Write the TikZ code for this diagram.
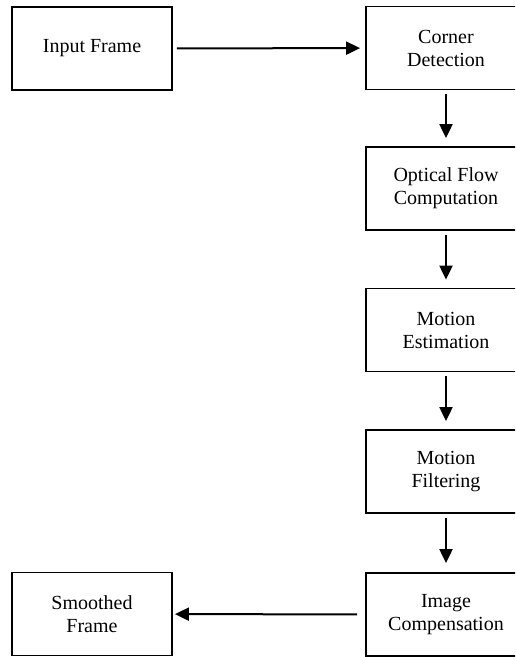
\documentclass[tikz,border=0pt]{standalone}
\usepackage{fontspec}
\setmainfont{Liberation Serif}
\usetikzlibrary{arrows.meta}
\begin{document}
\begin{tikzpicture}[x=1pt,y=-1pt,
  box/.style={draw, line width=1.8pt, minimum width=160pt, minimum height=83pt,
    align=center, inner sep=2pt, font=\fontsize{20}{23}\selectfont},
  flow/.style={line width=2pt, -{Triangle[length=14pt,width=13pt]}}]
\useasboundingbox (0,0) rectangle (515,657);
\clip (0,0) rectangle (515,657);
\fill[white] (0,0) rectangle (515,657);
\node[box] (input) at (92,48.5) {Input Frame};
\node[box] (corner) at (446,48) {Corner\\Detection};
\node[box] (optical) at (446,188.5) {Optical Flow\\Computation};
\node[box] (est) at (446,330) {Motion\\Estimation};
\node[box] (filt) at (446,471.5) {Motion\\Filtering};
\node[box] (comp) at (446,614.5) {Image\\Compensation};
\node[box] (smooth) at (92,614) {Smoothed\\Frame};
\draw[flow, shorten <=4pt, shorten >=5pt] (input) -- (corner);
\draw[flow, shorten <=4pt, shorten >=8pt] (corner) -- (optical);
\draw[flow, shorten <=4pt, shorten >=8pt] (optical) -- (est);
\draw[flow, shorten <=4pt, shorten >=8pt] (est) -- (filt);
\draw[flow, shorten <=4pt, shorten >=9pt] (filt) -- (comp);
\draw[flow, shorten <=8pt, shorten >=2pt] (comp) -- (smooth);
\end{tikzpicture}
\end{document}
